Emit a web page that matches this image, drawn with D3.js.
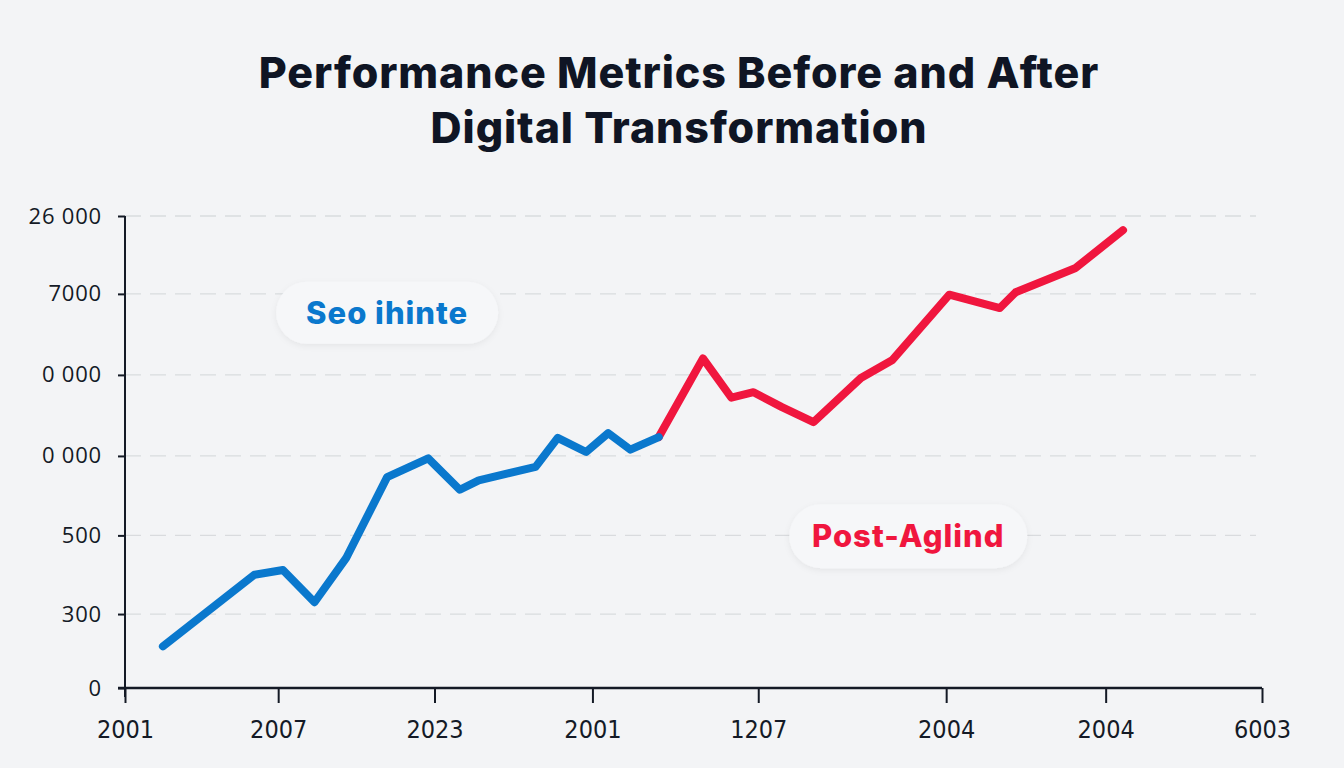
<!DOCTYPE html>
<html>
<head>
<meta charset="utf-8">
<script src="https://cdn.jsdelivr.net/npm/d3@7"></script>
<style>
  html, body { margin: 0; padding: 0; background: #f3f4f6; }
  svg { display: block; }
</style>
</head>
<body>
<svg id="chart" width="1344" height="768"></svg>
<script>
// ---- data ----
const titleLines = ["Performance Metrics Before and After", "Digital Transformation"];

// x positions (period index) and values (chart units) for each segment
const beforeX = [1.2, 4.1, 5.0, 6.0, 7.0, 8.3, 9.6, 10.6, 11.2, 13.0, 13.7, 14.6, 15.3, 16.0, 16.9];
const beforeY = [53, 144, 150, 109, 165, 268, 292, 252, 264, 281, 318, 300, 324, 303, 319];
const afterX  = [16.9, 18.3, 19.2, 19.9, 20.8, 21.8, 23.3, 24.3, 26.1, 27.7, 28.2, 30.1, 31.6];
const afterY  = [319, 419, 369, 376, 357, 338, 394, 417, 500, 483, 503, 534, 582];

const xTickValues = [0, 4.85, 9.8, 14.8, 20.05, 26.0, 31.05, 36];
const xTickLabels = ["2001", "2007", "2023", "2001", "1207", "2004", "2004", "6003"];
const yTickValues = [0, 94, 194, 295, 398, 501, 600];
const yTickLabels = ["0", "300", "500", "0 000", "0 000", "7000", "26 000"];

const beforeLabel = "Seo ihinte";
const afterLabel = "Post-Aglind";

// ---- layout ----
const svg = d3.select("#chart");
const W = 1344, H = 768;
const m = { left: 125, right: 82, top: 216, bottom: 80 };
const x = d3.scaleLinear().domain([0, 36]).range([m.left, W - m.right]);
const y = d3.scaleLinear().domain([0, 600]).range([H - m.bottom, m.top]);

const blue = "#0a78cd", red = "#f0163e", ink = "#141a26";

svg.append("rect").attr("width", W).attr("height", H).attr("fill", "#f3f4f6");

// shadow filter for pills
const defs = svg.append("defs");
const f = defs.append("filter").attr("id", "sh").attr("x", "-20%").attr("y", "-40%").attr("width", "140%").attr("height", "180%");
f.append("feDropShadow").attr("dx", 0).attr("dy", 2).attr("stdDeviation", 3).attr("flood-color", "#000").attr("flood-opacity", 0.06);

// title
svg.append("g").selectAll("text").data(titleLines).join("text")
  .attr("x", 679).attr("y", (d, i) => 88 + i * 55)
  .attr("text-anchor", "middle")
  .attr("font-family", "Inter, 'Open Sans', sans-serif")
  .attr("font-weight", 800).attr("font-size", 43)
  .attr("letter-spacing", 0.9)
  .attr("fill", "#0f1524")
  .text(d => d);

// gridlines
svg.append("g").selectAll("line").data(yTickValues.slice(1)).join("line")
  .attr("x1", x(0)).attr("x2", x(36) - 6)
  .attr("y1", d => y(d)).attr("y2", d => y(d))
  .attr("stroke", "#d9dbde").attr("stroke-width", 1.3)
  .attr("stroke-dasharray", "16,9");

// y axis
const yAxis = d3.axisLeft(y).tickValues(yTickValues)
  .tickFormat((d, i) => yTickLabels[i]).tickSize(7).tickPadding(16);
const gy = svg.append("g").attr("transform", `translate(${m.left},0)`).call(yAxis);
gy.select(".domain").remove();
gy.append("line").attr("x1", 0).attr("x2", 0).attr("y1", y(600)).attr("y2", y(0) + 9)
  .attr("stroke", ink).attr("stroke-width", 2);
gy.selectAll(".tick line").attr("stroke", ink).attr("stroke-width", 2);
gy.selectAll(".tick text").attr("fill", ink)
  .attr("font-family", "'Open Sans', 'Noto Sans', sans-serif").attr("font-size", 22)
  .attr("letter-spacing", 0.8);

// x axis
const xAxis = d3.axisBottom(x).tickValues(xTickValues)
  .tickFormat((d, i) => xTickLabels[i]).tickSize(15).tickPadding(17);
const gx = svg.append("g").attr("transform", `translate(0,${y(0)})`).call(xAxis);
gx.select(".domain").remove();
gx.append("line").attr("x1", x(0) - 7).attr("x2", x(36)).attr("y1", 0).attr("y2", 0)
  .attr("stroke", ink).attr("stroke-width", 2.5);
gx.selectAll(".tick line").attr("stroke", ink).attr("stroke-width", 2);
gx.selectAll(".tick text").attr("fill", ink)
  .attr("font-family", "'Liberation Sans Narrow', 'DejaVu Sans Condensed', sans-serif")
  .attr("font-size", 25);

// lines
const line = d3.line().x(d => x(d[0])).y(d => y(d[1])).curve(d3.curveLinear);
const beforeData = beforeX.map((v, i) => [v, beforeY[i]]);
const afterData = afterX.map((v, i) => [v, afterY[i]]);

svg.append("path").datum(afterData).attr("d", line)
  .attr("fill", "none").attr("stroke", red).attr("stroke-width", 8)
  .attr("stroke-linejoin", "round").attr("stroke-linecap", "round");
svg.append("path").datum(beforeData).attr("d", line)
  .attr("fill", "none").attr("stroke", blue).attr("stroke-width", 8)
  .attr("stroke-linejoin", "round").attr("stroke-linecap", "round");

// labels (pills)
function pill(cx, cy, w, h, text, color) {
  const g = svg.append("g");
  g.append("rect").attr("x", cx - w / 2).attr("y", cy - h / 2).attr("width", w).attr("height", h)
    .attr("rx", h / 2).attr("fill", "#f6f7f9").attr("filter", "url(#sh)");
  g.append("text").attr("x", cx).attr("y", cy).attr("dy", "0.36em")
    .attr("text-anchor", "middle")
    .attr("font-family", "Inter, 'Open Sans', sans-serif")
    .attr("font-weight", 800).attr("font-size", 31).attr("letter-spacing", 1.0)
    .attr("fill", color).text(text);
}
pill(x(8.3), y(477), 222, 62, beforeLabel, blue);
pill(x(24.8), y(193), 238, 64, afterLabel, red);
</script>
</body>
</html>
